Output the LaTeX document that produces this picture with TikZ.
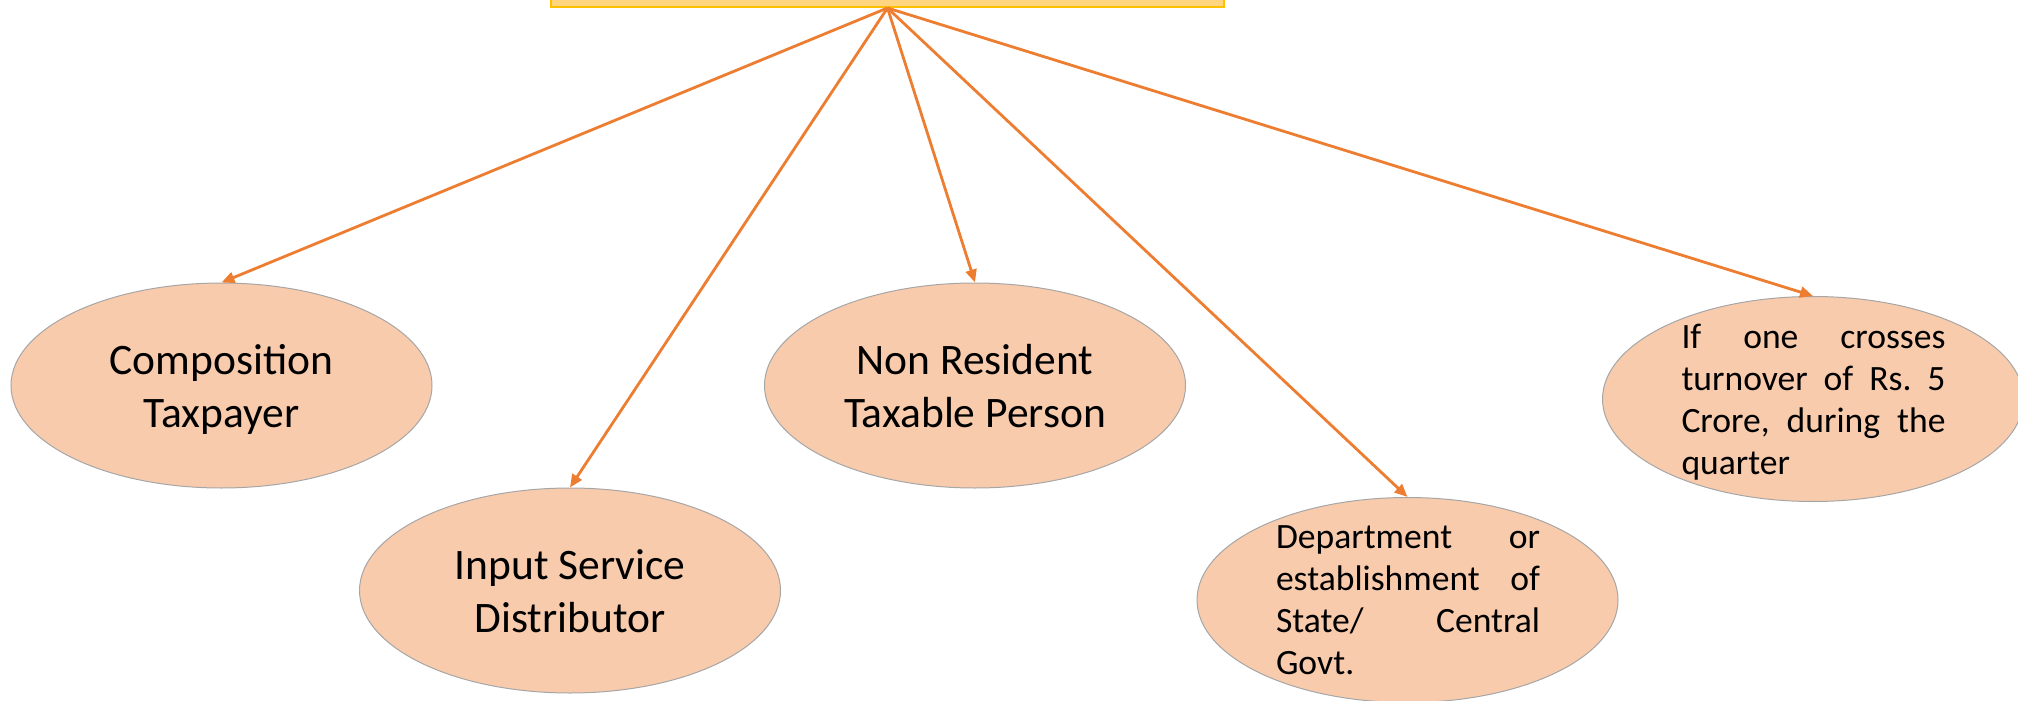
\documentclass[tikz,border=0pt]{standalone}
\usepackage{fontspec}
\setmainfont{Carlito}
\usetikzlibrary{arrows.meta,shapes.geometric}
\definecolor{arr}{HTML}{ED7D31}
\definecolor{efill}{HTML}{F8CBAD}
\definecolor{eline}{HTML}{A6A6A6}
\definecolor{bfill}{HTML}{FFD580}
\definecolor{bline}{HTML}{FFC000}
\newcommand{\jline}[1]{\makebox[132pt]{#1}}
\begin{document}
\begin{tikzpicture}[x=0.5pt,y=-0.5pt,
  oval/.style={ellipse, draw=eline, line width=0.5pt, fill=efill, minimum width=210.5pt, minimum height=102.5pt, inner sep=0pt},
  bigtxt/.style={font=\fontsize{21.75pt}{26.5pt}\selectfont, align=center, inner sep=0pt, anchor=base},
  smalltxt/.style={font=\fontsize{17.8pt}{21pt}\selectfont, text width=132pt, align=left, inner sep=0pt, anchor=base},
  link/.style={draw=arr, line width=1.4pt, -{Triangle[length=6.5pt,width=5.5pt]}},
  hubbox/.style={draw=bline, fill=bfill, line width=1pt, minimum width=336.5pt, minimum height=30pt, inner sep=0pt}]
\useasboundingbox (0,0) rectangle (2018,701);
\clip (0,0) rectangle (2018,701);

\node[hubbox] (hub) at (887.5,-23) {};

\node[oval] (e1) at (221.5,385.5) {};
\node[oval] (e2) at (570,590.5) {};
\node[oval] (e3) at (975,385.5) {};
\node[oval] (e4) at (1407.5,600) {};
\node[oval] (e5) at (1813,399) {};

\node[bigtxt] (t1) at (221.5,427) {Composition\\Taxpayer};
\node[bigtxt] (t2) at (570,632) {Input Service\\Distributor};
\node[bigtxt] (t3) at (975,427) {Non Resident\\Taxable Person};
\node[smalltxt] (t4) at (1408,548) {\jline{Department\hfill or}\\\jline{establishment\hfill of}\\\jline{State/\hfill Central}\\Govt.};
\node[smalltxt] (t5) at (1813.5,348) {\jline{If\hfill one\hfill crosses}\\\jline{turnover\hfill of\hfill Rs.\hfill 5}\\\jline{Crore,\hfill during\hfill the}\\quarter};

\foreach \e in {e1,e2,e3,e4,e5}
  \draw[link] (hub.south) -- (\e.north);
\end{tikzpicture}
\end{document}
